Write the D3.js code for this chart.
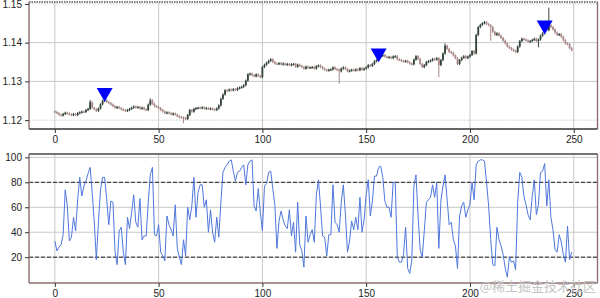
<!DOCTYPE html>
<html>
<head>
<meta charset="utf-8">
<script src="https://cdn.jsdelivr.net/npm/d3@7"></script>
<style>
  body { margin: 0; background: #fff; }
  svg { display: block; font-family: "DejaVu Sans", sans-serif; }
  .grid line { stroke: #c8c8c8; stroke-width: 1; }
  .tick text { fill: #222; font-size: 10px; }
  .tick line { stroke: #333; }
</style>
</head>
<body>
<svg id="chart" width="600" height="298"></svg>
<script>
// close prices (one per bar, 0..249)
var closes = [
  1.1221, 1.1218, 1.1214, 1.1212, 1.1216, 1.1219, 1.1217, 1.1215, 1.1213, 1.1216,
  1.1213, 1.1218, 1.1220, 1.1222, 1.1221, 1.1226, 1.1229, 1.1246, 1.1232, 1.1228,
  1.1224, 1.1230, 1.1241, 1.1250, 1.1251, 1.1247, 1.1244, 1.1240, 1.1236, 1.1232,
  1.1234, 1.1231, 1.1228, 1.1226, 1.1224, 1.1226, 1.1229, 1.1232, 1.1235, 1.1233,
  1.1234, 1.1230, 1.1232, 1.1228, 1.1226, 1.1240, 1.1251, 1.1242, 1.1236, 1.1234,
  1.1231, 1.1226, 1.1222, 1.1218, 1.1220, 1.1218, 1.1215, 1.1217, 1.1214, 1.1210,
  1.1208, 1.1207, 1.1205, 1.1203, 1.1213, 1.1226, 1.1222, 1.1229, 1.1231, 1.1232,
  1.1231, 1.1233, 1.1230, 1.1231, 1.1229, 1.1230, 1.1228, 1.1226, 1.1230, 1.1238,
  1.1255, 1.1266, 1.1277, 1.1276, 1.1279, 1.1277, 1.1280, 1.1278, 1.1282, 1.1284,
  1.1286, 1.1290, 1.1302, 1.1318, 1.1320, 1.1316, 1.1313, 1.1318, 1.1314, 1.1311,
  1.1337, 1.1343, 1.1348, 1.1353, 1.1357, 1.1350, 1.1346, 1.1345, 1.1347, 1.1344,
  1.1346, 1.1343, 1.1345, 1.1342, 1.1344, 1.1345, 1.1338, 1.1343, 1.1340, 1.1337,
  1.1333, 1.1338, 1.1335, 1.1336, 1.1337, 1.1333, 1.1339, 1.1341, 1.1337, 1.1333,
  1.1330, 1.1328, 1.1330, 1.1331, 1.1336, 1.1332, 1.1330, 1.1326, 1.1333, 1.1336,
  1.1332, 1.1326, 1.1328, 1.1330, 1.1328, 1.1331, 1.1329, 1.1334, 1.1330, 1.1333,
  1.1336, 1.1342, 1.1340, 1.1345, 1.1352, 1.1355, 1.1362, 1.1366, 1.1368, 1.1364,
  1.1362, 1.1363, 1.1360, 1.1364, 1.1365, 1.1357, 1.1355, 1.1353, 1.1351, 1.1353,
  1.1349, 1.1346, 1.1344, 1.1356, 1.1365, 1.1358, 1.1345, 1.1337, 1.1342, 1.1350,
  1.1352, 1.1354, 1.1358, 1.1356, 1.1360, 1.1342, 1.1355, 1.1372, 1.1392, 1.1384,
  1.1376, 1.1374, 1.1367, 1.1360, 1.1345, 1.1355, 1.1361, 1.1365, 1.1360, 1.1364,
  1.1368, 1.1378, 1.1372, 1.1420, 1.1440, 1.1446, 1.1450, 1.1453, 1.1448, 1.1445,
  1.1440, 1.1428, 1.1420, 1.1424, 1.1418, 1.1412, 1.1405, 1.1398, 1.1390, 1.1386,
  1.1382, 1.1379, 1.1376, 1.1390, 1.1404, 1.1410, 1.1408, 1.1406, 1.1403, 1.1404,
  1.1407, 1.1410, 1.1404, 1.1408, 1.1418, 1.1424, 1.1436, 1.1432, 1.1445, 1.1440,
  1.1434, 1.1426, 1.1420, 1.1422, 1.1415, 1.1406, 1.1398, 1.1396, 1.1386, 1.1380
]
var firstOpen = 1.1223
// the long wicks that stand out
var wickIdx  = [17, 46, 62, 137, 185, 188, 210, 233, 238]
var wickHigh = [1.1252, 1.1256, null, null, null, 1.1398, null, null, 1.1490]
var wickLow  = [null, null, 1.1192, 1.1294, 1.1311, null, 1.1405, 1.1388, null]
var baseWick = 0.00028

// sell signals (blue triangles)
var sellIdx   = [24, 156, 236]
var sellPrice = [1.1271, 1.1373, 1.1445]

// oscillator in the lower panel
var rsi = [
  33, 25, 28, 30, 38, 74, 61, 33, 36, 52,
  41, 66, 84, 69, 77, 81, 87, 92, 72, 48,
  18, 48, 74, 84, 84, 66, 46, 65, 64, 24,
  14, 41, 44, 24, 14, 52, 43, 56, 70, 48,
  44, 67, 34, 37, 37, 64, 86, 92, 38, 37,
  46, 24, 21, 17, 53, 46, 42, 37, 62, 27,
  20, 14, 34, 21, 60, 50, 61, 84, 52, 72,
  78, 78, 60, 66, 40, 58, 40, 32, 52, 36,
  64, 88, 92, 94, 97, 98, 89, 81, 88, 89,
  92, 94, 78, 94, 97, 98, 61, 57, 75, 56,
  41, 77, 79, 88, 89, 75, 62, 27, 49, 57,
  50, 45, 43, 58, 37, 48, 24, 64, 30, 25,
  12, 53, 32, 38, 42, 32, 70, 82, 61, 37,
  36, 21, 38, 38, 78, 48, 46, 40, 64, 78,
  54, 24, 33, 49, 42, 52, 42, 68, 40, 50,
  70, 82, 53, 65, 85, 85, 92, 93, 84, 65,
  60, 60, 52, 80, 80, 20, 16, 16, 22, 44,
  11, 7, 18, 77, 86, 53, 26, 20, 41, 64,
  66, 68, 78, 68, 80, 27, 65, 77, 86, 66,
  46, 48, 34, 29, 11, 53, 61, 64, 52, 58,
  62, 80, 66, 94, 97, 98, 98, 97, 80, 61,
  34, 14, 13, 44, 34, 29, 22, 11, 4, 20,
  16, 17, 10, 64, 88, 84, 69, 62, 54, 50,
  69, 82, 54, 62, 88, 89, 95, 61, 82, 52,
  42, 26, 24, 38, 32, 22, 16, 45, 18, 24
]
var rsiLevels = [80, 20]
var xTicks = [0, 50, 100, 150, 200, 250]
var priceTicks = [1.12, 1.13, 1.14, 1.15]
var rsiTicks = [20, 40, 60, 80, 100]

var upColor = '#34453a'
var downColor = '#a98787'
var spineBrown = '#8d6f6f'

// build candles
var candles = []
for (let i = 0; i < closes.length; i++) {
    let o = i == 0 ? firstOpen : closes[i - 1]
    let c = closes[i]
    let hi = Math.max(o, c) + baseWick
    let lo = Math.min(o, c) - baseWick
    let k = wickIdx.indexOf(i)
    if (k >= 0) {
        if (wickHigh[k] != null) hi = wickHigh[k]
        if (wickLow[k] != null) lo = wickLow[k]
    }
    candles.push({'i': i, 'o': o, 'c': c, 'h': hi, 'l': lo})
}

var svg = d3.select('#chart')
var left = 29, right = 597.5
var top1 = 2, bot1 = 129
var top2 = 154, bot2 = 283

// matplotlib-like 5% margins
function padDomain(lo, hi) {
    let m = (hi - lo) * 0.05
    return [lo - m, hi + m]
}

var n = closes.length
var x = d3.scaleLinear().domain(padDomain(0, n - 1)).range([left, right])
var y1 = d3.scaleLinear()
    .domain(padDomain(d3.min(candles, d => d.l), d3.max(candles, d => d.h)))
    .range([bot1, top1])
var y2 = d3.scaleLinear()
    .domain(padDomain(d3.min(rsi), d3.max(rsi)))
    .range([bot2, top2])

function drawGrid(g, yScale, yTicks, top, bot, dotted) {
    let grid = g.append('g').attr('class', 'grid')
    grid.selectAll('.gx').data(xTicks).enter()
        .append('line')
        .attr('x1', d => x(d)).attr('x2', d => x(d))
        .attr('y1', top).attr('y2', bot)
    grid.selectAll('.gy').data(yTicks).enter()
        .append('line')
        .attr('x1', left).attr('x2', right)
        .attr('y1', d => yScale(d)).attr('y2', d => yScale(d))
        .attr('stroke-dasharray', d => dotted.indexOf(d) >= 0 ? '1.5,1.5' : null)
}

function drawAxes(g, yScale, yTicks, bot, fmt) {
    g.append('g')
        .attr('transform', 'translate(0,' + bot + ')')
        .call(d3.axisBottom(x).tickValues(xTicks).tickSize(4).tickPadding(3).tickFormat(d3.format('d')))
        .call(a => a.select('.domain').remove())
    g.append('g')
        .attr('transform', 'translate(' + left + ',0)')
        .call(d3.axisLeft(yScale).tickValues(yTicks).tickSize(4).tickPadding(3).tickFormat(fmt))
        .call(a => a.select('.domain').remove())
}

function drawSpines(g, top, bot, colors) {
    // colors: top, right, bottom, left
    let segs = [
        [left, top, right, top], [right, top, right, bot],
        [left, bot, right, bot], [left, top, left, bot]
    ]
    g.selectAll('.spine').data(segs).enter()
        .append('line')
        .attr('x1', d => d[0]).attr('y1', d => d[1])
        .attr('x2', d => d[2]).attr('y2', d => d[3])
        .attr('stroke', (d, i) => colors[i].c)
        .attr('stroke-width', 1.4)
        .attr('stroke-dasharray', (d, i) => colors[i].dash || null)
}

// ---------- upper panel: candlesticks ----------
var g1 = svg.append('g')
drawGrid(g1, y1, priceTicks, top1, bot1, [1.12, 1.15])

var bw = 1.8
var cg = g1.append('g')
cg.selectAll('.wick').data(candles).enter()
    .append('line')
    .attr('x1', d => x(d.i)).attr('x2', d => x(d.i))
    .attr('y1', d => y1(d.h)).attr('y2', d => y1(d.l))
    .attr('stroke', d => d.c >= d.o ? upColor : downColor)
    .attr('stroke-width', 1)
cg.selectAll('.body').data(candles).enter()
    .append('rect')
    .attr('x', d => x(d.i) - bw / 2)
    .attr('width', bw)
    .attr('y', d => y1(Math.max(d.o, d.c)))
    .attr('height', d => Math.max(1.2, Math.abs(y1(d.o) - y1(d.c))))
    .attr('fill', d => d.c >= d.o ? upColor : downColor)

var tri = d3.symbol().type(d3.symbolTriangle).size(110)
g1.selectAll('.sell').data(sellIdx).enter()
    .append('path')
    .attr('d', tri)
    .attr('transform', (d, i) => 'translate(' + x(d) + ',' + y1(sellPrice[i]) + ') rotate(180)')
    .attr('fill', '#0000ff')

drawSpines(g1, top1, bot1, [
    {c: '#555', dash: '1.5,1'}, {c: spineBrown}, {c: '#333'}, {c: spineBrown}
])
drawAxes(g1, y1, priceTicks, bot1, d3.format('.2f'))

// ---------- lower panel: oscillator ----------
var g2 = svg.append('g')
drawGrid(g2, y2, rsiTicks, top2, bot2, [])

g2.selectAll('.lvl').data(rsiLevels).enter()
    .append('line')
    .attr('x1', left).attr('x2', right)
    .attr('y1', d => y2(d)).attr('y2', d => y2(d))
    .attr('stroke', '#222')
    .attr('stroke-width', 1)
    .attr('stroke-dasharray', '4,2')

var line = d3.line()
    .x((d, i) => x(i))
    .y(d => y2(d))
g2.append('path')
    .datum(rsi)
    .attr('d', line)
    .attr('fill', 'none')
    .attr('stroke', '#4f77dc')
    .attr('stroke-width', 1)

drawSpines(g2, top2, bot2, [
    {c: '#444'}, {c: spineBrown}, {c: spineBrown}, {c: spineBrown}
])
drawAxes(g2, y2, rsiTicks, bot2, d3.format('d'))

// watermark
svg.append('text')
    .attr('x', 596)
    .attr('y', 291)
    .attr('text-anchor', 'end')
    .attr('font-family', '"Noto Sans CJK SC", sans-serif')
    .attr('font-size', 13)
    .attr('fill', '#c4c4c4')
    .text('@稀土掘金技术社区')
</script>
</body>
</html>
